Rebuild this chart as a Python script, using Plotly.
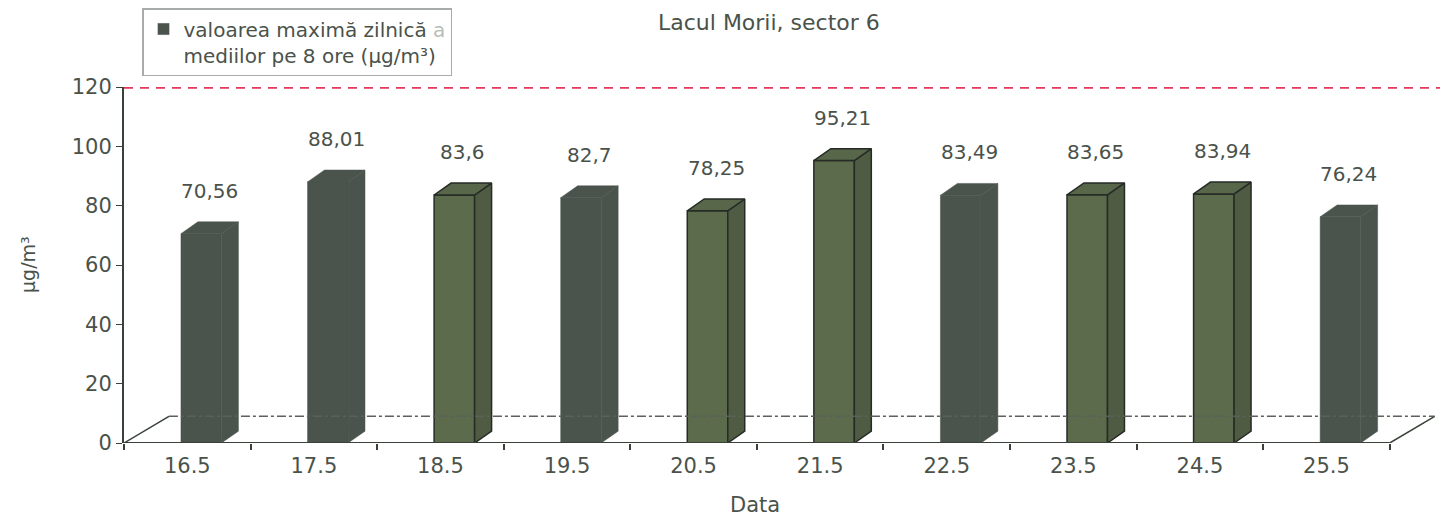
import plotly.graph_objects as go

dates = ["16.5", "17.5", "18.5", "19.5", "20.5", "21.5", "22.5", "23.5", "24.5", "25.5"]
values = [70.56, 88.01, 83.6, 82.7, 78.25, 95.21, 83.49, 83.65, 83.94, 76.24]
outlined = [False, False, True, False, True, True, False, True, True, False]
limit_value = 120
y_ticks = [0, 20, 40, 60, 80, 100, 120]

TXT = "#4a524a"
DARK = "#4b544c"
GREEN = "#5c6b4c"
GREEN_SIDE = "#4f5c43"
GREEN_TOP = "#58664a"
EDGE = "#262b26"
AXIS = "#3a403a"
FONT = "DejaVu Sans, Verdana, sans-serif"

W = 0.32      # front face width (category units)
OFF = 0.11    # front face shift right of the category centre
DX = 0.134    # bar depth in x
DY = 4.0      # bar depth in y
FLOOR_DX = 0.355
FLOOR_DY = 9.0
X0, X1 = -0.5, 9.96
n = len(dates)

fig = go.Figure()

# floor of the pseudo-3D chart
fig.add_shape(type="line", x0=-0.5, y0=0, x1=n - 0.5, y1=0, line=dict(color=AXIS, width=2))
fig.add_shape(type="line", x0=-0.5, y0=0, x1=-0.5 + FLOOR_DX, y1=FLOOR_DY, line=dict(color=AXIS, width=1.5))
fig.add_shape(type="line", x0=n - 0.5, y0=0, x1=n - 0.5 + FLOOR_DX, y1=FLOOR_DY, line=dict(color=AXIS, width=1.5))
fig.add_shape(type="line", x0=-0.5 + FLOOR_DX, y0=FLOOR_DY, x1=n - 0.5 + FLOOR_DX, y1=FLOOR_DY,
              line=dict(color="#5a605a", width=1.5, dash="dashdot"))

for i, (v, o) in enumerate(zip(values, outlined)):
    cx = i + OFF
    l, r = cx - W / 2, cx + W / 2
    side = GREEN_SIDE if o else DARK
    top = GREEN_TOP if o else DARK
    lw = 1.5 if o else 0.5
    lc = EDGE if o else DARK
    fig.add_trace(go.Scatter(
        x=[r, r + DX, r + DX, r, r], y=[0, DY, v + DY, v, 0],
        fill="toself", fillcolor=side, mode="lines",
        line=dict(color=lc, width=lw), showlegend=False, hoverinfo="skip"))
    fig.add_trace(go.Scatter(
        x=[l, l + DX, r + DX, r, l], y=[v, v + DY, v + DY, v, v],
        fill="toself", fillcolor=top, mode="lines",
        line=dict(color=lc, width=lw), showlegend=False, hoverinfo="skip"))

fig.add_trace(go.Bar(
    x=[i + OFF for i in range(n)],
    y=values,
    width=W,
    marker=dict(color=[GREEN if o else DARK for o in outlined],
                line=dict(color=[EDGE if o else DARK for o in outlined],
                          width=[1.5 if o else 0.5 for o in outlined])),
    showlegend=False,
))
# legend entry
fig.add_trace(go.Bar(
    x=[None], y=[None], marker_color=DARK,
    name="valoarea maximă zilnică <span style='color:#b8bcb8'>a</span><br>mediilor pe 8 ore (µg/m³)",
))

for i, v in enumerate(values):
    fig.add_annotation(
        x=i + OFF + DX / 2, y=v, text=f"{v:g}".replace(".", ","), showarrow=False,
        yanchor="bottom", yshift=29, font=dict(size=20, color=TXT, family=FONT))

fig.add_shape(type="line", x0=X0, x1=X1, y0=limit_value, y1=limit_value,
              line=dict(color="#e33a5c", width=3.5, dash="9px,7px"))

fig.add_annotation(text="Lacul Morii, sector 6", xref="paper", yref="paper",
                   x=0.487, y=1.18, yanchor="middle", showarrow=False,
                   font=dict(size=22, color=TXT, family=FONT))
fig.add_annotation(text="Data", xref="paper", yref="paper",
                   x=0.4766, y=-0.175, yanchor="middle", showarrow=False,
                   font=dict(size=21, color=TXT, family=FONT))
fig.add_annotation(text="µg/m³", xref="paper", yref="paper", textangle=-90,
                   x=-0.0725, y=0.5, xanchor="center", yanchor="middle", showarrow=False,
                   font=dict(size=19, color=TXT, family=FONT))

fig.update_layout(
    width=1440, height=513,
    margin=dict(l=116, r=0, t=77, b=78),
    plot_bgcolor="white", paper_bgcolor="white",
    font=dict(family=FONT, color=TXT, size=20),
    barmode="overlay",
    legend=dict(x=0.0136, y=1.2235, xanchor="left", yanchor="top", valign="top",
                bordercolor="#a8aca8", borderwidth=1.5, bgcolor="white",
                font=dict(size=20, color=TXT)),
    showlegend=True,
)
fig.update_xaxes(
    range=[X0, X1], tickvals=list(range(n)), ticktext=dates,
    ticks="", showgrid=False, zeroline=False, showline=False,
    tickfont=dict(size=21, color=TXT), ticklabelstandoff=8,
    minor=dict(tickvals=[i - 0.5 for i in range(n + 1)],
               ticks="outside", ticklen=6, tickcolor=AXIS, tickwidth=1.5),
)
fig.update_yaxes(
    range=[0, limit_value], tickvals=y_ticks, showgrid=False, zeroline=False,
    showline=True, linecolor=AXIS, linewidth=2,
    ticks="outside", ticklen=6, tickcolor=AXIS,
    tickfont=dict(size=21, color=TXT),
)

fig.write_html("out.html")
